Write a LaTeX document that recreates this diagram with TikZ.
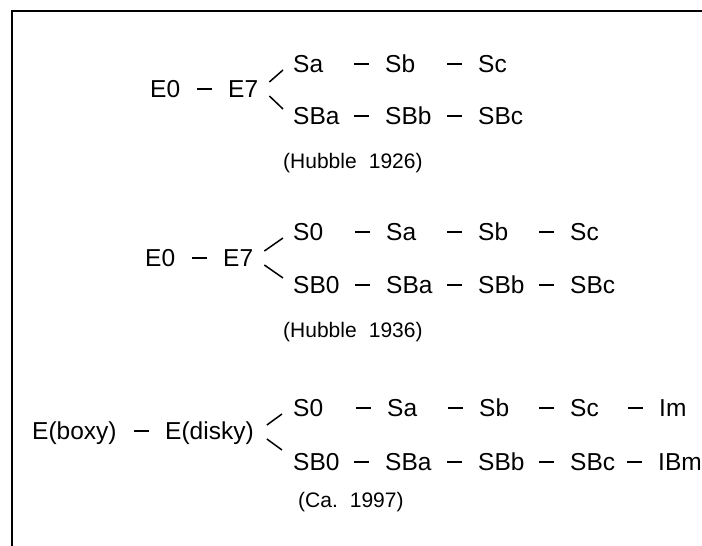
\documentclass[tikz,border=0pt]{standalone}
\usepackage{fontspec}
\setmainfont{Liberation Sans}
\usetikzlibrary{calc}

\begin{document}
\begin{tikzpicture}[x=1pt,y=1pt,
  cls/.style={anchor=west,inner sep=0pt,text height=17.5pt,text depth=0pt,
    font=\fontsize{24.5}{29}\selectfont},
  note/.style={anchor=west,inner sep=0pt,text height=15pt,text depth=0pt,
    font=\fontsize{21}{25}\selectfont},
  dashln/.style={line width=2pt},
  branch/.style={line width=1.5pt}]

\useasboundingbox (0,0) rectangle (702,-546);
\draw[line width=2pt] (12,-546) -- (12,-11) -- (702,-11);

% Hubble 1926
\node[cls] (a0) at (150,-89) {E0};
\node[cls] (a7) at (228,-89) {E7};
\foreach \nm/\x/\txt in {asa/293/Sa, asb/385/Sb, asc/478/Sc}
  \node[cls] (\nm) at (\x,-64) {\txt};
\foreach \nm/\x/\txt in {aba/293/SBa, abb/385/SBb, abc/478/SBc}
  \node[cls] (\nm) at (\x,-116) {\txt};
\node[note] (acap) at (283,-161) {(Hubble\hspace{0.3em} 1926)};

\foreach \nm in {a7,asb,asc,abb,abc}
  \draw[dashln] ([xshift=-31pt]\nm.west) -- ([xshift=-16pt]\nm.west);
\draw[branch] ($(a7.east)+(11,7)$) -- ($(asa.west)+(-10,-6)$);
\draw[branch] ($(a7.east)+(11,-7)$) -- ($(aba.west)+(-10,7)$);

% Hubble 1936
\node[cls] (b0) at (145,-258) {E0};
\node[cls] (b7) at (223,-258) {E7};
\foreach \nm/\x/\txt in {bs0/293/S0, bsa/386/Sa, bsb/478/Sb, bsc/570/Sc}
  \node[cls] (\nm) at (\x,-232) {\txt};
\foreach \nm/\x/\txt in {bb0/293/SB0, bba/386/SBa, bbb/478/SBb, bbc/570/SBc}
  \node[cls] (\nm) at (\x,-285) {\txt};
\node[note] (bcap) at (283,-330) {(Hubble\hspace{0.3em} 1936)};

\foreach \nm in {b7,bsa,bsb,bsc,bba,bbb,bbc}
  \draw[dashln] ([xshift=-31pt]\nm.west) -- ([xshift=-16pt]\nm.west);
\draw[branch] ($(b7.east)+(11,7)$) -- ($(bs0.west)+(-10,-6)$);
\draw[branch] ($(b7.east)+(11,-7)$) -- ($(bb0.west)+(-10,7)$);

% ca. 1997
\node[cls] (cbox) at (32,-431) {E(boxy)};
\node[cls] (cdsk) at (165,-431) {E(disky)};
\foreach \nm/\x/\txt in {cs0/293/S0, csa/387/Sa, csb/479/Sb, csc/570/Sc, csm/659/Im}
  \node[cls] (\nm) at (\x,-408) {\txt};
\foreach \nm/\x/\txt in {cb0/293/SB0, cba/385/SBa, cbb/478/SBb, cbc/570/SBc, cbm/658/IBm}
  \node[cls] (\nm) at (\x,-462) {\txt};
\node[note] (ccap) at (298,-500) {(Ca.\hspace{0.2em} 1997)};

\foreach \nm in {cdsk,csa,csb,csc,csm,cba,cbb,cbc,cbm}
  \draw[dashln] ([xshift=-31pt]\nm.west) -- ([xshift=-16pt]\nm.west);
\draw[branch] ($(cdsk.east)+(13,6)$) -- ($(cs0.west)+(-11,-6)$);
\draw[branch] ($(cdsk.east)+(13,-8)$) -- ($(cb0.west)+(-11,12)$);

\end{tikzpicture}
\end{document}
